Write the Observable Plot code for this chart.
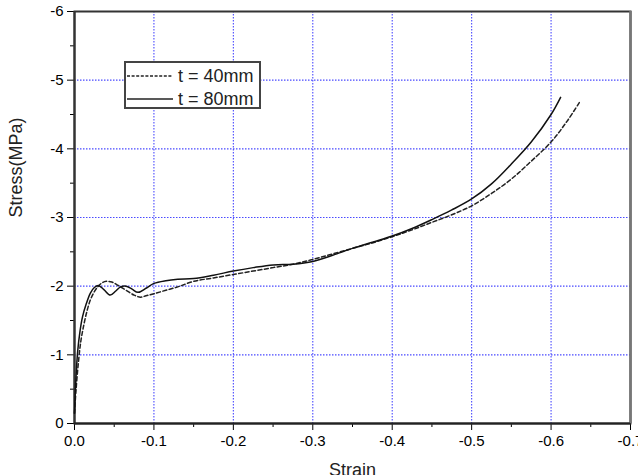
<!DOCTYPE html>
<html>
<head>
<meta charset="utf-8">
<script src="https://cdn.jsdelivr.net/npm/d3@7"></script>
<script src="https://cdn.jsdelivr.net/npm/@observablehq/plot@0.6"></script>
<style>
  html, body { margin: 0; padding: 0; background: #fff; }
  #wrap { position: relative; width: 638px; height: 475px; overflow: hidden; font-family: "Liberation Sans", Arial, sans-serif; }
  #legend { position: absolute; left: 124px; top: 61px; width: 133px; height: 44px; border: 2px solid #444; background: #fff; }
  #legend .row { position: absolute; left: 0; height: 24px; display: flex; align-items: center; }
  #legend .row span { font-size: 18px; color: #222; margin-left: 4px; }
</style>
</head>
<body>
<div id="wrap"></div>
<script>
// ---- data ----
const xTicks = [0, -0.1, -0.2, -0.3, -0.4, -0.5, -0.6, -0.7];
const xMinor = [-0.05, -0.15, -0.25, -0.35, -0.45, -0.55, -0.65];
const yTicks = [0, -1, -2, -3, -4, -5, -6];
const yMinor = [-0.5, -1.5, -2.5, -3.5, -4.5, -5.5];
const xGrid = [-0.1, -0.2, -0.3, -0.4, -0.5, -0.6];
const yGrid = [-1, -2, -3, -4, -5];

const seriesNames = ["t = 40mm", "t = 80mm"];

const strain40 = [0, -0.002, -0.005, -0.008, -0.012, -0.016, -0.02, -0.025, -0.03, -0.035, -0.04, -0.047, -0.055, -0.065, -0.075, -0.083, -0.09, -0.1, -0.115, -0.13, -0.15, -0.175, -0.2, -0.225, -0.25, -0.275, -0.3, -0.325, -0.35, -0.375, -0.4, -0.425, -0.45, -0.475, -0.5, -0.525, -0.55, -0.575, -0.6, -0.62, -0.637];
const stress40 = [-0.15, -0.5, -0.9, -1.2, -1.45, -1.65, -1.8, -1.92, -2.0, -2.05, -2.07, -2.06, -2.01, -1.94, -1.87, -1.84, -1.86, -1.89, -1.94, -1.99, -2.07, -2.12, -2.17, -2.22, -2.27, -2.32, -2.39, -2.47, -2.55, -2.63, -2.72, -2.82, -2.93, -3.04, -3.17, -3.35, -3.56, -3.82, -4.1, -4.4, -4.7];

const strain80 = [0, -0.002, -0.004, -0.007, -0.01, -0.015, -0.02, -0.025, -0.03, -0.037, -0.045, -0.052, -0.058, -0.065, -0.072, -0.08, -0.09, -0.1, -0.115, -0.13, -0.15, -0.175, -0.2, -0.225, -0.25, -0.275, -0.3, -0.325, -0.35, -0.375, -0.4, -0.425, -0.45, -0.475, -0.5, -0.525, -0.55, -0.575, -0.6, -0.612];
const stress80 = [-0.15, -0.7, -1.05, -1.35, -1.55, -1.75, -1.9, -1.98, -2.01, -1.95, -1.87, -1.93, -1.99, -2.0, -1.96, -1.91, -1.97, -2.04, -2.08, -2.1, -2.11, -2.16, -2.22, -2.27, -2.31, -2.32, -2.36, -2.45, -2.55, -2.64, -2.73, -2.84, -2.97, -3.11, -3.27, -3.49, -3.78, -4.1, -4.5, -4.75];

const d40 = strain40.map((x, i) => ({x, y: stress40[i]}));
const d80 = strain80.map((x, i) => ({x, y: stress80[i]}));

const chart = Plot.plot({
  width: 638,
  height: 475,
  marginLeft: 74,
  marginRight: 8,
  marginTop: 11,
  marginBottom: 52,
  style: {fontFamily: "'Liberation Sans', Arial, sans-serif"},
  x: {domain: [0, -0.7], label: null},
  y: {domain: [0, -6], label: null},
  marks: [
    Plot.ruleX(xGrid, {stroke: "#4a4aff", strokeWidth: 1.1, strokeDasharray: "1.5,1.5"}),
    Plot.ruleY(yGrid, {stroke: "#4a4aff", strokeWidth: 1.1, strokeDasharray: "1.5,1.5"}),
    Plot.axisX({ticks: xMinor, tickSize: 4, tickFormat: () => "", label: null}),
    Plot.axisY({ticks: yMinor, tickSize: 4, tickFormat: () => "", label: null}),
    Plot.axisX({ticks: xTicks, tickSize: 7, tickPadding: 5, tickFormat: d => d.toFixed(1), fontSize: 15, label: null}),
    Plot.axisY({ticks: yTicks, tickSize: 7, tickPadding: 4, tickFormat: d => String(d), fontSize: 15, label: null}),
    Plot.frame({stroke: "#333333", strokeWidth: 2}),
    Plot.ruleX([-0.7], {stroke: "#777777", strokeWidth: 2.5}),
    Plot.ruleX([0], {stroke: "#333333", strokeWidth: 2}),
    Plot.ruleY([0], {stroke: "#222222", strokeWidth: 2}),
    Plot.line(d40, {x: "x", y: "y", curve: "catmull-rom", stroke: "#222", strokeWidth: 1.5, strokeDasharray: "4,2.5"}),
    Plot.line(d80, {x: "x", y: "y", curve: "catmull-rom", stroke: "#111", strokeWidth: 1.5}),
    Plot.text(["Strain"], {frameAnchor: "bottom", lineAnchor: "top", dy: 40, fontSize: 18, fill: "#222"}),
    Plot.text(["Stress(MPa)"], {frameAnchor: "left", dx: -58, rotate: -90, fontSize: 18, fill: "#222"})
  ]
});

const wrap = document.getElementById("wrap");
wrap.appendChild(chart);

// legend
const legend = document.createElement("div");
legend.id = "legend";
const dashes = ["3,1.6", null];
seriesNames.forEach((name, i) => {
  const row = document.createElement("div");
  row.className = "row";
  row.style.top = (1 + i * 23) + "px";
  const svg = d3.create("svg").attr("width", 48).attr("height", 24);
  svg.append("line").attr("x1", 1).attr("x2", 47).attr("y1", 12).attr("y2", 12)
    .attr("stroke", "#222").attr("stroke-width", 1.5)
    .attr("stroke-dasharray", dashes[i]);
  row.appendChild(svg.node());
  const sp = document.createElement("span");
  sp.textContent = name;
  row.appendChild(sp);
  legend.appendChild(row);
});
wrap.appendChild(legend);
</script>
</body>
</html>
